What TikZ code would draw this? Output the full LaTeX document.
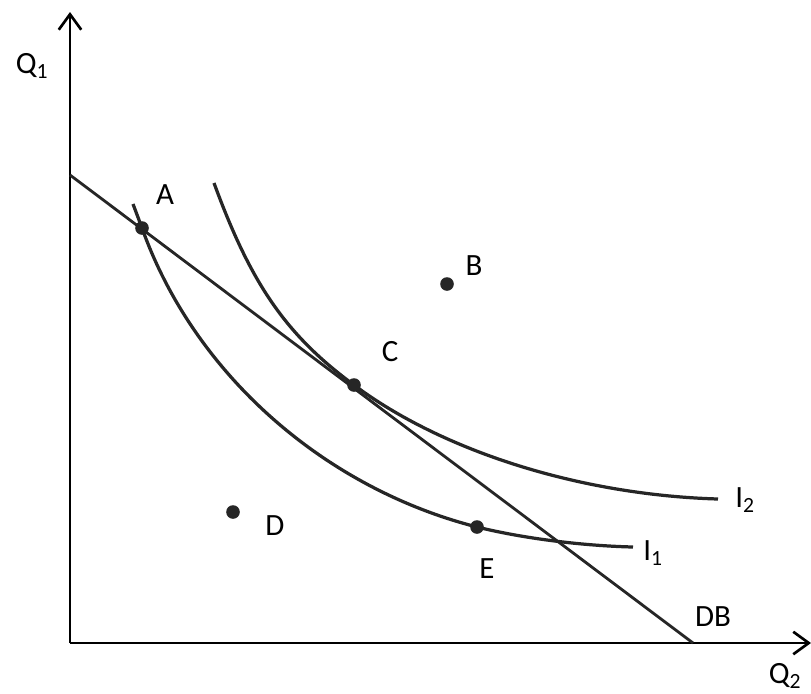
\documentclass[tikz,border=0pt]{standalone}
\usepackage{fontspec}
\setmainfont{Carlito}
\usetikzlibrary{arrows.meta,positioning}

\begin{document}
\begin{tikzpicture}[
    x=0.025cm, y=-0.025cm,
    axis/.style={line width=1.9pt, -{Straight Barb[length=11pt,width=16pt,line width=1.9pt]}},
    curve/.style={line width=2.3pt, black!85},
    pt/.style={circle, fill=black!85, inner sep=0pt, minimum size=0.34cm},
    lab/.style={font=\fontsize{22}{26}\selectfont, inner sep=0pt}
]
\useasboundingbox (0,0) rectangle (811,693);

% Achsen
\coordinate (O) at (70,643);
\coordinate (ytop) at (70,12);
\coordinate (xend) at (811,643);
\draw[axis] (O) -- (ytop);
\draw[axis] (O) -- (xend);
\node (q1) [lab] at (32,66) {Q\textsubscript{1}};
\node (q2) [lab] at (785,676) {Q\textsubscript{2}};

% Punkte
\node (A) [pt] at (142,228) {};
\node (B) [pt] at (447,284) {};
\node (C) [pt] at (354,385) {};
\node (D) [pt] at (233,512) {};
\node (E) [pt] at (477,527) {};

% Budgetgerade
\coordinate (dbtop) at (70,175);
\coordinate (dbbot) at (693,643);
\draw[curve, line width=2pt] (dbtop) -- (dbbot);
\node (db) [lab] at (713,617) {DB};

% Indifferenzkurven
\coordinate (i1start) at (133,204);
\coordinate (i1end) at (633,547);
\coordinate (i2start) at (214,183);
\coordinate (i2end) at (718,499);
\draw[curve] (i1start) -- (A.center) .. controls (194,374) and (324,488) .. (E.center)
    .. controls (530,540) and (590,546) .. (i1end);
\draw[curve] (i2start) .. controls (251,284) and (286,335) .. (C.center)
    .. controls (442,451) and (580,495) .. (i2end);
\node (i1) [lab] at (653,553) {I\textsubscript{1}};
\node (i2) [lab] at (745,500) {I\textsubscript{2}};

% Beschriftungen
\node (labA) [lab] at (165,195) {A};
\node (labB) [lab] at (474,266) {B};
\node (labC) [lab] at (390,352) {C};
\node (labD) [lab] at (275,526) {D};
\node (labE) [lab] at (487,569) {E};

\end{tikzpicture}
\end{document}
